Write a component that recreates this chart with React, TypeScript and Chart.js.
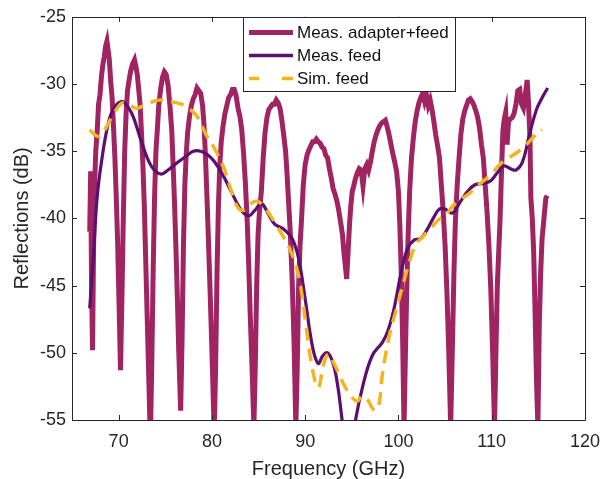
import React, { useEffect, useRef } from 'react';
import { Chart, registerables } from 'chart.js';

Chart.register(...registerables);

// ---- data ----
const seriesNames = ['Meas. adapter+feed', 'Meas. feed', 'Sim. feed'];
const xTicks = [70, 80, 90, 100, 110, 120];
const yTicks = [-55, -50, -45, -40, -35, -30, -25];

// [frequency GHz, reflection dB]
const adapterFeed: [number, number][] = [
  [66.9, -41], [67.0, -36.5], [67.1, -45], [67.2, -49.8], [67.3, -43], [67.4, -38],
  [67.55, -35], [67.7, -33.5], [67.85, -31.5], [68.0, -30.8], [68.15, -29.5], [68.3, -28.6],
  [68.45, -28], [68.6, -27.2], [68.75, -26.8], [68.9, -27.6], [69.0, -28.2], [69.15, -29.8],
  [69.3, -31], [69.45, -33.2], [69.6, -35.5], [69.75, -38.5], [69.9, -42], [70.05, -46.5],
  [70.2, -51.3], [70.35, -46], [70.5, -40], [70.65, -35], [70.8, -32.2], [70.95, -30.5],
  [71.1, -29.8], [71.3, -29], [71.5, -28.5], [71.7, -28.2], [71.85, -28.7], [72.0, -29.3],
  [72.15, -30.4], [72.3, -31.5], [72.45, -33.6], [72.6, -36], [72.75, -39], [72.9, -43],
  [73.05, -47], [73.2, -51], [73.4, -56.5], [73.55, -51], [73.7, -44], [73.85, -38.5],
  [74.0, -35], [74.15, -33.4], [74.3, -31.6], [74.5, -30.4], [74.7, -29.5], [74.9, -29.1],
  [75.1, -29.3], [75.3, -30.1], [75.5, -31.6], [75.7, -33.5], [75.85, -36.2], [76.0, -39],
  [76.15, -42.3], [76.3, -46], [76.45, -50], [76.65, -54.3], [76.8, -49], [76.95, -42],
  [77.1, -37.5], [77.25, -35.2], [77.4, -33.6], [77.6, -32.4], [77.8, -31.6], [78.0, -31.1],
  [78.2, -30.8], [78.4, -30.3], [78.6, -30.5], [78.8, -30.7], [79.0, -31.6], [79.15, -33],
  [79.3, -35.2], [79.45, -38], [79.6, -41], [79.75, -44.2], [79.9, -47.5], [80.05, -51],
  [80.25, -56], [80.4, -51], [80.55, -44], [80.7, -39], [80.85, -36], [81.0, -34.3],
  [81.2, -33.1], [81.4, -32.2], [81.6, -31.6], [81.8, -31], [82.0, -30.8], [82.2, -30.4],
  [82.4, -30.4], [82.6, -30.9], [82.8, -31.8], [83.0, -32.4], [83.2, -33.4], [83.4, -35.2],
  [83.6, -37.5], [83.8, -40.5], [83.95, -43.5], [84.1, -47], [84.3, -51], [84.5, -55.5],
  [84.65, -51], [84.8, -45], [84.95, -41.2], [85.1, -39.5], [85.3, -38], [85.5, -35.5],
  [85.7, -33.6], [85.9, -32.5], [86.1, -31.9], [86.3, -31.7], [86.5, -31.5], [86.7, -31.5],
  [86.9, -31.2], [87.1, -31.4], [87.3, -31.8], [87.5, -32.7], [87.7, -33.8], [87.9, -35],
  [88.05, -36.6], [88.2, -38.5], [88.4, -41], [88.6, -44.5], [88.8, -49], [89.0, -55.5],
  [89.15, -51], [89.3, -45], [89.45, -42], [89.6, -40.2], [89.8, -37.5], [90.0, -36],
  [90.2, -35.3], [90.4, -34.9], [90.6, -34.6], [90.8, -34.3], [91.0, -34.3], [91.2, -34.1],
  [91.4, -34.3], [91.6, -34.4], [91.8, -34.7], [92.0, -34.8], [92.2, -35.3], [92.4, -35.5],
  [92.6, -36.3], [92.8, -37], [93.0, -37.8], [93.2, -38.2], [93.4, -38.7], [93.6, -39.4],
  [93.8, -40.3], [94.0, -41.2], [94.15, -42.5], [94.3, -43.5], [94.45, -44.5], [94.6, -42.5],
  [94.75, -40.5], [94.9, -39], [95.05, -38], [95.2, -37.6], [95.4, -37], [95.6, -36.6],
  [95.8, -36.3], [96.0, -36.4], [96.2, -37.6], [96.4, -36.3], [96.6, -36], [96.8, -36.4],
  [97.0, -35.8], [97.2, -35], [97.4, -34.3], [97.6, -33.8], [97.8, -33.4], [98.0, -33.1],
  [98.2, -32.9], [98.4, -32.8], [98.6, -32.7], [98.8, -33.2], [99.0, -33.8], [99.2, -34.5],
  [99.4, -35.2], [99.6, -35.8], [99.8, -36.5], [100.0, -38], [100.15, -40.5], [100.3, -44],
  [100.45, -49], [100.6, -55.5], [100.75, -50], [100.9, -45], [101.05, -41], [101.2, -38],
  [101.4, -35.5], [101.6, -34], [101.8, -32.8], [102.0, -32], [102.2, -31.4], [102.4, -31],
  [102.6, -30.7], [102.8, -31.3], [103.0, -30.8], [103.2, -31.6], [103.4, -31.2], [103.6, -31.9],
  [103.8, -32.8], [104.0, -33.8], [104.2, -34.6], [104.4, -35.5], [104.6, -37.5], [104.8, -39.5],
  [105.0, -42], [105.2, -45.5], [105.4, -50], [105.6, -55.5], [105.8, -49], [105.95, -44],
  [106.1, -40.3], [106.3, -37.5], [106.5, -35.5], [106.7, -33.7], [106.9, -32.6], [107.1, -32],
  [107.3, -31.6], [107.5, -31.2], [107.7, -31.1], [107.9, -31.3], [108.1, -31.6], [108.3, -32],
  [108.5, -32.5], [108.7, -33.3], [108.9, -34.5], [109.1, -35.5], [109.3, -37.5], [109.5, -39.5],
  [109.7, -42], [109.9, -45.2], [110.1, -50], [110.3, -55.5], [110.45, -50], [110.6, -45],
  [110.75, -42.5], [110.9, -40], [111.05, -36.5], [111.2, -33.5], [111.35, -32.6], [111.5, -32.1],
  [111.65, -34.5], [111.8, -32.8], [112.0, -32.6], [112.2, -32.5], [112.4, -32.2], [112.6, -31.5],
  [112.8, -30.5], [113.0, -30.4], [113.2, -31.5], [113.4, -31.8], [113.6, -30.8], [113.8, -29.7],
  [113.95, -31.5], [114.1, -34], [114.2, -38.5], [114.35, -40], [114.5, -42.5], [114.65, -47],
  [114.8, -52], [114.95, -55.5], [115.1, -48], [115.25, -44], [115.4, -41.5], [115.6, -40],
  [115.8, -38.5], [115.95, -38.3],
];

const measFeed: [number, number][] = [
  [66.9, -46.7], [67.3, -42.7], [67.7, -38.4], [68.2, -35.6], [68.9, -32.9], [69.5, -31.8],
  [70.3, -31.3], [71.0, -31.7], [71.6, -32.5], [72.5, -34.4], [73.5, -36.1], [74.5, -36.7],
  [75.3, -36.4], [76.2, -35.9], [77.2, -35.4], [78.0, -35.0], [78.8, -35.0], [79.6, -35.3],
  [80.3, -35.8], [81.2, -36.8], [82.0, -37.9], [82.8, -39.0], [83.4, -39.6], [84.0, -39.8],
  [84.6, -39.4], [85.3, -38.9], [86.0, -39.6], [86.7, -40.4], [87.7, -40.8], [88.6, -41.5],
  [89.3, -43.0], [90.0, -46.0], [90.8, -49.6], [91.4, -50.8], [91.9, -50.2], [92.4, -50.0],
  [93.0, -50.8], [93.5, -52.5], [94.0, -55.2], [94.5, -57.5], [95.0, -57.3], [95.4, -55.0],
  [96.2, -52.4], [97.2, -50.2], [98.3, -49.2], [98.9, -48.3], [99.5, -46.8], [100.3, -44.0],
  [101.0, -42.2], [101.7, -41.6], [102.4, -41.5], [103.1, -40.8], [103.8, -39.9], [104.4, -39.3],
  [105.0, -39.3], [105.8, -39.6], [106.6, -38.8], [107.4, -38.0], [108.2, -37.5], [109.1, -37.4],
  [109.9, -37.2], [110.6, -36.6], [111.3, -36.1], [112.0, -36.3], [112.6, -36.4], [113.3, -35.8],
  [114.0, -33.9], [114.8, -31.9], [115.5, -30.9], [116.0, -30.3],
];

const simFeed: [number, number][] = [
  [66.9, -33.4], [67.5, -33.8], [68.0, -33.9], [68.7, -33.2], [69.4, -32.3], [70.4, -31.4],
  [71.2, -31.6], [72.0, -31.8], [73.0, -31.5], [74.3, -31.2], [75.5, -31.3], [76.7, -31.5],
  [77.7, -31.9], [78.4, -32.4], [79.4, -33.8], [80.2, -34.7], [81.2, -36.1], [82.2, -38.2],
  [82.8, -39.2], [83.4, -39.4], [84.0, -39.0], [84.8, -38.7], [85.4, -39.0], [85.9, -39.4],
  [86.9, -40.5], [87.6, -41.3], [88.3, -42.2], [89.0, -43.5], [89.5, -45.0], [90.1, -48.0],
  [90.8, -51.3], [91.4, -52.6], [92.0, -50.8], [92.5, -50.1], [93.1, -50.8], [94.1, -52.3],
  [95.0, -53.3], [95.6, -53.6], [96.1, -53.2], [96.7, -53.5], [97.3, -54.2], [97.8, -54.2],
  [98.3, -51.5], [99.0, -48.8], [99.6, -47.2], [100.3, -45.4], [101.2, -43.2], [101.9, -41.9],
  [102.7, -41.3], [103.5, -40.7], [104.3, -40.1], [105.0, -39.8], [105.8, -39.1], [106.6, -38.6],
  [107.5, -38.2], [108.6, -37.5], [109.8, -36.8], [111.0, -35.9], [111.8, -35.5], [112.7, -35.1],
  [113.6, -34.6], [114.4, -34.0], [115.4, -33.4],
];

const colors = ['#9f2461', '#5c0f6f', '#f2b51f'];
const textColor = '#262626';
const FONT = "'Liberation Sans', Arial, Helvetica, sans-serif";

const toPoints = (arr: [number, number][]) => arr.map(([x, y]) => ({ x, y }));

const frameAndLegend = {
  id: 'frameAndLegend',
  afterDraw(chart: any) {
    const { ctx, chartArea } = chart;
    const { left, right, top, bottom } = chartArea;
    const xs = chart.scales.x;
    const ys = chart.scales.y;
    ctx.save();
    ctx.strokeStyle = textColor;
    ctx.lineWidth = 1;
    ctx.beginPath();
    ctx.rect(Math.round(left) + 0.5, Math.round(top) + 0.5, Math.round(right - left), Math.round(bottom - top));
    ctx.stroke();
    const tl = 5;
    ctx.beginPath();
    xTicks.forEach((v) => {
      const p = Math.round(xs.getPixelForValue(v)) + 0.5;
      ctx.moveTo(p, bottom); ctx.lineTo(p, bottom - tl);
      ctx.moveTo(p, top); ctx.lineTo(p, top + tl);
    });
    yTicks.forEach((v) => {
      const p = Math.round(ys.getPixelForValue(v)) + 0.5;
      ctx.moveTo(left, p); ctx.lineTo(left + tl, p);
      ctx.moveTo(right, p); ctx.lineTo(right - tl, p);
    });
    ctx.stroke();

    // legend box
    const lx = 243.5, ly = Math.round(top) + 0.5, lw = 212, lh = 74;
    ctx.fillStyle = '#ffffff';
    ctx.fillRect(lx, ly, lw, lh);
    ctx.strokeStyle = textColor;
    ctx.lineWidth = 1;
    ctx.strokeRect(lx, ly, lw, lh);
    const rows = [ly + 15, ly + 38, ly + 61];
    const widths = [5, 3.5, 3.5];
    chart.data.datasets.forEach((ds: any, i: number) => {
      const y = rows[i];
      ctx.strokeStyle = ds.borderColor;
      ctx.lineWidth = widths[i];
      ctx.beginPath();
      if (i === 2) {
        ctx.moveTo(249, y); ctx.lineTo(259, y);
        ctx.moveTo(282, y); ctx.lineTo(293, y);
      } else {
        ctx.moveTo(249, y); ctx.lineTo(293, y);
      }
      ctx.stroke();
      ctx.fillStyle = '#111111';
      ctx.font = `17px ${FONT}`;
      ctx.textBaseline = 'middle';
      ctx.textAlign = 'left';
      ctx.fillText(ds.label, 297, y + 1);
    });
    ctx.restore();
  },
};

export default function App() {
  const ref = useRef<HTMLCanvasElement | null>(null);
  useEffect(() => {
    if (!ref.current) return;
    const chart = new Chart(ref.current, {
      type: 'line',
      data: {
        datasets: [
          {
            label: seriesNames[0],
            data: toPoints(adapterFeed),
            borderColor: colors[0],
            borderWidth: 5,
            pointRadius: 0,
            tension: 0,
            order: 3,
            clip: 0,
          },
          {
            label: seriesNames[1],
            data: toPoints(measFeed),
            borderColor: colors[1],
            borderWidth: 3.2,
            pointRadius: 0,
            tension: 0.4,
            order: 2,
            clip: 0,
          },
          {
            label: seriesNames[2],
            data: toPoints(simFeed),
            borderColor: colors[2],
            borderWidth: 3.5,
            borderDash: [13, 8],
            pointRadius: 0,
            tension: 0.4,
            order: 1,
            clip: 0,
          },
        ],
      },
      options: {
        animation: false,
        responsive: false,
        maintainAspectRatio: false,
        layout: { padding: { left: 0, right: 17, top: 13, bottom: 0 } },
        plugins: { legend: { display: false }, tooltip: { enabled: false } },
        scales: {
          x: {
            type: 'linear',
            min: 65,
            max: 120,
            grid: { display: false, drawTicks: false },
            border: { display: false },
            afterBuildTicks: (s: any) => { s.ticks = xTicks.map((v) => ({ value: v })); },
            afterFit: (s: any) => { s.height = 59; },
            ticks: { font: { size: 18, family: FONT }, color: textColor, padding: 11, maxRotation: 0 },
            title: {
              display: true,
              text: 'Frequency (GHz)',
              color: textColor,
              font: { size: 20, family: FONT, lineHeight: 1 },
              padding: { top: 0, bottom: 0 },
            },
          },
          y: {
            type: 'linear',
            min: -55,
            max: -25,
            grid: { display: false, drawTicks: false },
            border: { display: false },
            afterBuildTicks: (s: any) => { s.ticks = yTicks.map((v) => ({ value: v })); },
            afterFit: (s: any) => { s.width = 72; },
            ticks: { font: { size: 18, family: FONT }, color: textColor, padding: 6 },
            title: {
              display: true,
              text: 'Reflections (dB)',
              color: textColor,
              font: { size: 20, family: FONT, lineHeight: 1 },
              padding: { top: 12, bottom: 0 },
            },
          },
        },
      },
      plugins: [frameAndLegend],
    });
    return () => chart.destroy();
  }, []);
  return (
    <div style={{ position: 'absolute', left: 0, top: 0, width: 611, height: 479, background: '#fff' }}>
      <canvas ref={ref} width={611} height={479} style={{ display: 'block' }} />
    </div>
  );
}
